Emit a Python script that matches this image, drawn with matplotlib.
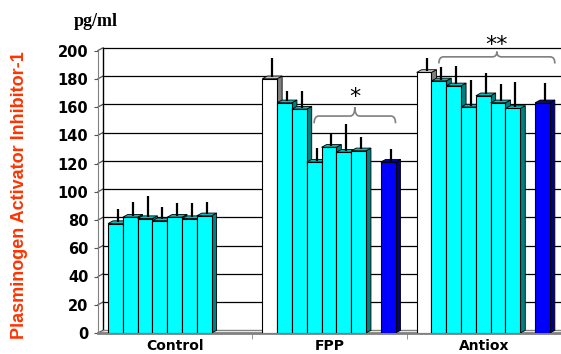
import matplotlib
matplotlib.use('Agg')
import matplotlib.pyplot as plt
import matplotlib.transforms as mtransforms
from matplotlib.patches import Polygon, PathPatch
from matplotlib.path import Path

# data (pg/ml)
groups = ['Control', 'FPP', 'Antiox']
control = [77.5, 82, 81, 79.5, 82, 81, 83]
control_sd = [10, 11, 16, 10, 10, 11, 10]
fpp = [180, 163, 158.5, 121, 131.5, 128, 129]
fpp_sd = [15, 8, 13, 10, 10, 20, 10]
antiox = [184.5, 178.5, 175, 160, 168, 163, 159]
antiox_sd = [10, 10, 14, 19, 16, 13, 19]
blue = [0, 121, 163]
blue_sd = [0, 9.5, 14]
kinds = [['c'] * 7, ['w'] + ['c'] * 6, ['w'] + ['c'] * 6]
yticks = list(range(0, 201, 20))

colors = {'w': ('white', '#808080', '#C8C8C8'),
          'c': ('#00FFFF', '#008080', '#00C0C0'),
          'b': ('#0000FF', '#000080', '#0000B0')}

W, H = 561, 354
fig = plt.figure(figsize=(W / 100, H / 100), dpi=100)
ax = fig.add_axes([98 / W, 21 / H, 463 / W, 282.5 / H])
ax.set_xlim(0, 3)
ax.set_ylim(0, 200)

# fake 3d depth, in pixels and in data units
DX, DY = 5, 2.7
ddx = DX * 3 / 463
ddy = DY * 200 / 282.5
back = ax.transData + mtransforms.ScaledTranslation(DX / 100, DY / 100, fig.dpi_scale_trans)

bw = 14.8 / 154.33
off = 10 / 154.33

# back wall grid
for v in yticks[1:]:
    ax.plot([0, 3], [v, v], transform=back, color='black', lw=0.9, clip_on=False, zorder=1)
for v in yticks:
    ax.plot([0, ddx], [v, v + ddy], color='#555555', lw=0.9, clip_on=False, zorder=1)
ax.plot([0, 0], [0, 200], transform=back, color='black', lw=1, clip_on=False, zorder=1)
ax.plot([0, 3], [0, 0], transform=back, color='#808080', lw=1, clip_on=False, zorder=1)


def draw_bar(xl, h, kind, sd, z):
    if h <= 0:
        return
    front, side, top = colors[kind]
    xr = xl + bw
    ax.add_patch(Polygon([(xr, 0), (xr + ddx, ddy), (xr + ddx, h + ddy), (xr, h)],
                         closed=True, fc=side, ec='black', lw=0.6, zorder=z))
    ax.add_patch(Polygon([(xl, h), (xl + ddx, h + ddy), (xr + ddx, h + ddy), (xr, h)],
                         closed=True, fc=top, ec='black', lw=0.6, zorder=z))
    ax.bar(xl, h, width=bw, align='edge', color=front, edgecolor='black', lw=0.8, zorder=z + 0.5)
    xc = xl + bw / 2 + ddx / 2
    ax.plot([xc, xc], [h + ddy / 2, h + sd], color='black', lw=1.6, zorder=60, solid_capstyle='butt')


means = [control, fpp, antiox]
sds = [control_sd, fpp_sd, antiox_sd]
z = 5
for i in range(3):
    for j in range(7):
        draw_bar(i + off + j * bw, means[i][j], kinds[i][j], sds[i][j], z)
        z += 1
    draw_bar(i + off + 8 * bw, blue[i], 'b', blue_sd[i], z)
    z += 1


def brace(x0, x1, yb, yt, yp):
    r = 0.03
    xm = (x0 + x1) / 2
    verts = [(x0, yb), (x0, yt), (x0 + r, yt), (xm - r, yt), (xm, yt), (xm, yp),
             (xm, yt), (xm + r, yt), (x1 - r, yt), (x1, yt), (x1, yb)]
    codes = [Path.MOVETO, Path.CURVE3, Path.CURVE3, Path.LINETO, Path.CURVE3, Path.CURVE3,
             Path.CURVE3, Path.CURVE3, Path.LINETO, Path.CURVE3, Path.CURVE3]
    ax.add_patch(PathPatch(Path(verts, codes), fc='none', ec='#808080', lw=1.2,
                           clip_on=False, zorder=70))


x0 = 1 + off + 3.5 * bw
x1 = 1 + off + 9 * bw
brace(x0, x1, 148.5, 153.6, 160)
ax.text((x0 + x1) / 2, 162.5, '*', ha='center', va='baseline', fontsize=16, zorder=70)
x0 = 2 + off + 1.5 * bw
x1 = 2 + off + 9 * bw + ddx
brace(x0, x1, 190.8, 195.5, 199.2)
ax.text((x0 + x1) / 2, 199.5, '**', ha='center', va='baseline', fontsize=16, zorder=70,
        clip_on=False)

# axes
for s in ['top', 'right']:
    ax.spines[s].set_visible(False)
ax.spines['left'].set_color('#808080')
ax.spines['bottom'].set_color('#808080')
ax.spines['bottom'].set_linewidth(2)
ax.set_yticks(yticks)
ax.set_yticklabels([str(v) for v in yticks], fontweight='bold', fontsize=10.5)
ax.tick_params(axis='y', length=3, color='#555555', pad=4)
ax.set_xticks([0.5, 1.5, 2.5])
ax.set_xticklabels(groups, fontweight='bold', fontsize=10)
ax.tick_params(axis='x', which='major', length=0, pad=4)
ax.set_xticks([1, 2], minor=True)
ax.tick_params(axis='x', which='minor', length=4, color='#808080')

fig.text(20 / W, 1 - 195 / H, 'Plasminogen Activator Inhibitor-1', rotation=90,
         ha='center', va='center', color='#FF3300', fontweight='bold', fontsize=13,
         family='Liberation Sans')
fig.text(96 / W, 1 - 21 / H, 'pg/ml', ha='center', va='center', fontweight='bold',
         fontsize=13, family='Liberation Serif')

fig.savefig('out.png', dpi=100)
